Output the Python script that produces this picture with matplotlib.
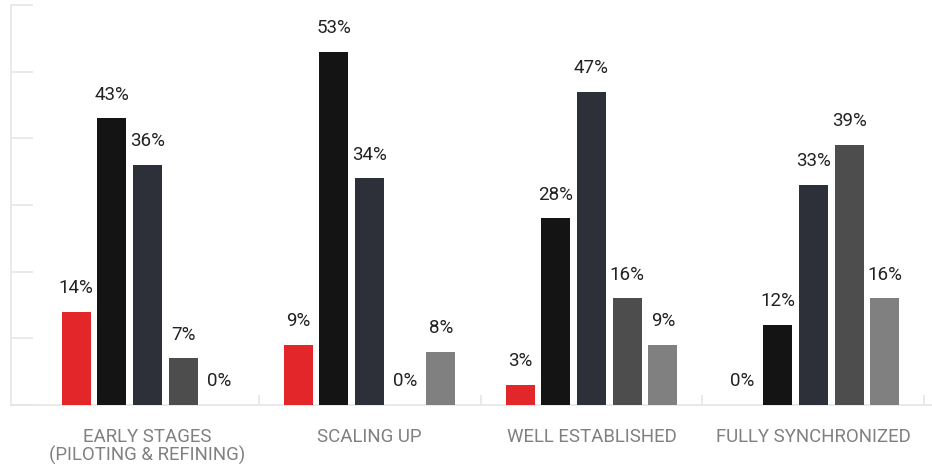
import numpy as np
from matplotlib import pyplot as plt

plt.rcParams["font.family"] = ["Roboto", "DejaVu Sans"]

STAGES = [
    "EARLY STAGES\n(PILOTING & REFINING)",
    "SCALING UP",
    "WELL ESTABLISHED",
    "FULLY SYNCHRONIZED",
]
# one series per bar colour, values in percent per stage
SERIES_A = [14, 9, 3, 0]
SERIES_B = [43, 53, 28, 12]
SERIES_C = [36, 34, 47, 33]
SERIES_D = [7, 0, 16, 39]
SERIES_E = [0, 8, 9, 16]

COLORS = ["#e3262a", "#141414", "#2d3038", "#4d4d4d", "#808080"]
GRID = "#e6e6e6"

series = [SERIES_A, SERIES_B, SERIES_C, SERIES_D, SERIES_E]

fig = plt.figure(figsize=(9.32, 4.67), dpi=100)
ax = fig.add_axes([11 / 932, 1 - 405 / 467, 1 - 11 / 932, 400 / 467])

x = np.arange(len(STAGES))
width = 0.1306
step = 0.161

for i, (vals, color) in enumerate(zip(series, COLORS)):
    pos = x + (i - 2) * step
    bars = ax.bar(pos, vals, width=width, color=color, zorder=3)
    for b, v in zip(bars, vals):
        ax.annotate(
            f"{v}%",
            (b.get_x() + b.get_width() / 2, v),
            xytext=(0, 10.5),
            textcoords="offset points",
            ha="center",
            va="bottom",
            fontsize=13.5,
            color="#222222",
        )

ax.set_xlim(-0.6149, 3.5338)
ax.set_ylim(0, 60)

for side in ["top", "right"]:
    ax.spines[side].set_visible(False)
for side in ["left", "bottom"]:
    ax.spines[side].set_color(GRID)
    ax.spines[side].set_linewidth(1.2)

ax.set_yticks(np.arange(0, 61, 10))
ax.set_yticklabels([])
ax.tick_params(axis="y", direction="in", length=16, color=GRID, width=1.2)

# separators between stages as inward major ticks, names on minor ticks
ax.set_xticks(x + 0.5)
ax.set_xticklabels([])
ax.tick_params(axis="x", which="major", direction="in", length=7, color=GRID, width=1.2)
ax.set_xticks(x, minor=True)
ax.set_xticklabels(STAGES, minor=True, fontsize=13.4, color="#808080", linespacing=1.0)
ax.tick_params(axis="x", which="minor", length=0, pad=16.5)

fig.savefig("out.png", dpi=100)
